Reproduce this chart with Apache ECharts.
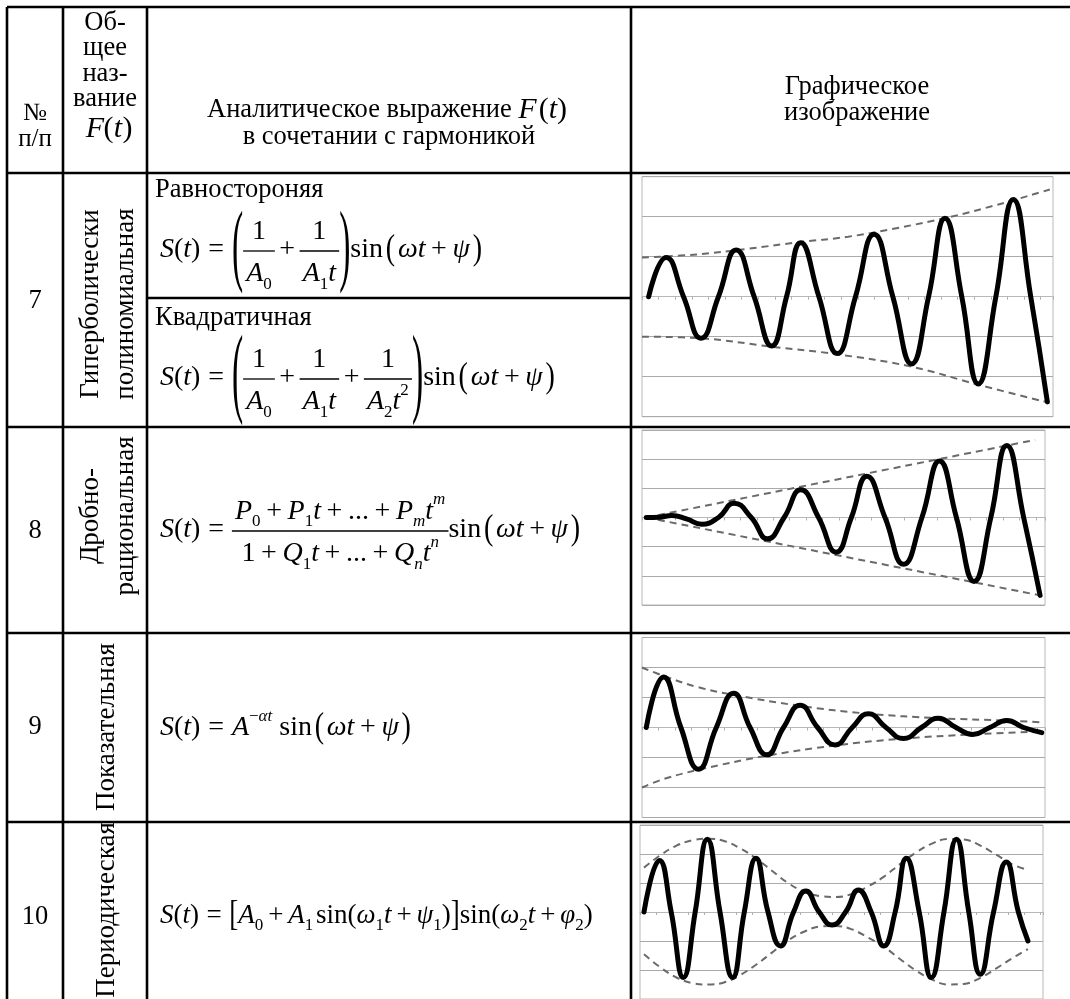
<!DOCTYPE html>
<html><head><meta charset="utf-8">
<script src="https://cdn.jsdelivr.net/npm/echarts@6/dist/echarts.min.js"></script>
<style>html,body{margin:0;padding:0;background:#fff}#c{width:1070px;height:999px}</style>
</head><body><div id="c"></div><script>
// ---------- DATA ----------
// Row 7: hyperbolic-polynomial harmonic (t, S)
const curve7 = [[0,0],[1.06,0.98],[2.1,0],[3.15,-1.04],[4.2,0],[5.27,1.17],[6.35,0],[7.41,-1.23],[8.3,0],[9.16,1.35],[10.25,0],[11.36,-1.42],[12.45,0],[13.57,1.56],[14.7,0],[15.83,-1.68],[16.85,0],[17.84,1.96],[18.85,0],[19.84,-2.18],[20.9,0],[21.95,2.43],[23.0,0],[24,-2.63]];
const upper7 = [[-0.4,0.98],[3,1.06],[6,1.2],[9,1.36],[12,1.5],[15,1.72],[18,1.98],[21,2.3],[24.15,2.68]];
const lower7 = [[-0.4,-1.0],[3.15,-1.04],[7.41,-1.25],[11.36,-1.44],[15.83,-1.75],[19.84,-2.2],[24.1,-2.65]];
// Row 8: fractional-rational
const curve8 = [[0,0],[0.8,0.01],[1.56,0.07],[2.45,-0.05],[3.39,-0.23],[4.4,0],[5.36,0.49],[6.4,0],[7.39,-0.73],[8.4,0],[9.42,0.95],[10.5,0],[11.57,-1.19],[12.5,0],[13.44,1.41],[14.55,0],[15.68,-1.6],[16.8,0],[17.87,1.94],[18.9,0],[19.98,-2.19],[21.0,0],[21.97,2.47],[23.0,0],[24,-2.67]];
const upper8 = [[0,0],[23.7,2.66]];
const lower8 = [[0,0],[24,-2.67]];
// Row 9: exponential
const curve9 = [[0,0],[1.05,1.68],[2.1,0],[3.17,-1.39],[4.25,0],[5.3,1.14],[6.3,0],[7.32,-0.91],[8.33,0],[9.34,0.74],[10.4,0],[11.46,-0.58],[12.5,0],[13.49,0.46],[14.55,0],[15.61,-0.37],[16.7,0],[17.73,0.31],[18.8,0],[19.81,-0.23],[20.85,0],[21.88,0.23],[22.9,0],[24,-0.17]];
const upper9 = [[-0.26,2.0],[1.05,1.72],[3.17,1.34],[5.3,1.09],[9.34,0.72],[13.49,0.46],[17.73,0.31],[21.88,0.23],[24,0.17]];
const lower9 = [[-0.26,-2.0],[1.05,-1.72],[3.17,-1.41],[7.32,-0.94],[11.46,-0.6],[15.61,-0.37],[19.81,-0.23],[24,-0.13]];
// Row 10: periodic
const curve10 = [[0,0],[0.96,1.78],[1.7,0],[2.46,-2.26],[3.2,0],[3.96,2.51],[4.75,0],[5.54,-2.26],[6.27,0],[7.0,1.85],[7.75,0],[8.53,-1.17],[9.35,0],[10.12,0.72],[10.95,0],[11.76,-0.45],[12.6,0],[13.4,0.76],[14.2,0],[14.99,-1.17],[15.7,0],[16.4,1.85],[17.2,0],[17.96,-2.26],[18.75,0],[19.53,2.51],[20.3,0],[21.02,-2.15],[21.85,0],[22.65,1.72],[23.4,0],[24,-1.0]];
const upper10 = [[0,1.53],[1,1.95],[2,2.28],[3,2.47],[4,2.53],[5,2.45],[6,2.2],[7,1.85],[8,1.42],[9,1.0],[10,0.7],[11,0.55],[12,0.52],[13,0.62],[14,0.88],[15,1.22],[16,1.65],[17,2.05],[18,2.36],[19,2.52],[20,2.5],[21,2.3],[22,1.98],[23,1.65],[24,1.45]];
const lower10 = [[0,-1.46],[1,-1.9],[2,-2.25],[3,-2.45],[4,-2.5],[5,-2.43],[6,-2.18],[7,-1.82],[8,-1.4],[9,-0.98],[10,-0.68],[11,-0.5],[12,-0.48],[13,-0.6],[14,-0.88],[15,-1.2],[16,-1.62],[17,-2.02],[18,-2.33],[19,-2.5],[20,-2.48],[21,-2.28],[22,-1.95],[23,-1.6],[24,-1.28]];
const yTicks = [-3,-2,-1,0,1,2,3];
// Table texts
const headNo = ['№','п/п'];
const headName = ['Об-','щее','наз-','вание'];
const headExpr = ['Аналитическое выражение ','в сочетании с гармоникой'];
const headGraph = ['Графическое','изображение'];
const rowNums = ['7','8','9','10'];
const rowNames = [['Гиперболически','полиномиальная'],['Дробно-','рациональная'],['Показательная'],['Периодическая']];
const subNames = ['Равностороняя','Квадратичная'];

// ---------- LAYOUT ----------
const FAM = '"Liberation Serif","Times New Roman",serif';
const mc = document.createElement('canvas').getContext('2d');
function fontOf(fs,it){return (it?'italic ':'')+fs+'px '+FAM;}
function tw(s,fs,it){mc.font=fontOf(fs,it);return mc.measureText(s).width;}
const els = [];
function T(s,x,y,o){o=o||{};const fs=o.fs||26;const al=o.al||'left';
  els.push({type:'text',x:x,y:y,rotation:o.rot||0,scaleX:o.sx||1,scaleY:o.sy||1,silent:true,z:100,
    style:{text:s,font:fontOf(fs,o.it),fill:'#000',align:al,verticalAlign:'middle',textAlign:al,textVerticalAlign:'middle'}});}
function L(x1,y1,x2,y2,wd){els.push({type:'line',silent:true,z:90,shape:{x1:x1,y1:y1,x2:x2,y2:y2},style:{stroke:'#000',lineWidth:wd||2.6}});}
// math tokens
const I=s=>({s:s,it:true}), N=s=>({s:s,it:false}), SB=(s,it)=>({s:s,it:!!it,sub:true}), SP=e=>({sp:e}),
      SU=(s,it)=>({s:s,it:it!==false,sup:true}), FR=(a,b)=>({fr:[a,b]}), BP=(c,k,kx)=>({bp:c,k:k,kx:kx||1});
function run(tk,x,ax,fs,draw){
  for(const t of tk){
    if(t.sp!==undefined){x+=t.sp*fs;continue;}
    if(t.fr){const wn=run(t.fr[0],0,0,fs,false),wd=run(t.fr[1],0,0,fs,false);const W=Math.max(wn,wd)+0.22*fs;
      if(draw){L(x,ax,x+W,ax,1.3);run(t.fr[0],x+(W-wn)/2,ax-0.66*fs,fs,true);run(t.fr[1],x+(W-wd)/2,ax+0.86*fs,fs,true);}
      x+=W;continue;}
    if(t.bp){const w=tw(t.bp,fs,false)*t.kx; if(draw)T(t.bp,x,ax-0.04*fs,{fs:fs,sy:t.k,sx:t.kx}); x+=w; continue;}
    const small=t.sub||t.sup; const s2=small?Math.round(fs*0.62):fs;
    const dy=t.sub?0.32*fs:(t.sup?-0.46*fs:-0.04*fs);
    if(draw)T(t.s,x,ax+dy,{fs:s2,it:t.it});
    x+=tw(t.s,s2,t.it);
  }
  return x;
}
const EQ=[I('S'),N('('),I('t'),N(')'),SP(.28),N('='),SP(.28)];
const PL=[SP(.2),N('+'),SP(.2)];
const PLs=[SP(.16),N('+'),SP(.16)];
const SINW=[N('sin'),SP(.1),BP('(',1.25),SP(.1),I('ω'),I('t'),...PL,I('ψ'),SP(.1),BP(')',1.25)];
const F7a=[...EQ,BP('(',3.26,1.2),FR([N('1')],[I('A'),SB('0')]),...PLs,FR([N('1')],[I('A'),SB('1'),I('t')]),BP(')',3.26,1.2),...SINW];
const F7b=[...EQ,BP('(',3.58,1.2),FR([N('1')],[I('A'),SB('0')]),...PLs,FR([N('1')],[I('A'),SB('1'),I('t')]),...PLs,FR([N('1')],[I('A'),SB('2'),I('t'),SU('2',false)]),BP(')',3.58,1.2),...SINW];
const F8=[...EQ,FR([I('P'),SB('0'),...PL,I('P'),SB('1'),I('t'),...PL,N('...'),...PL,I('P'),SB('m',true),I('t'),SU('m')],
                 [N('1'),...PL,I('Q'),SB('1'),I('t'),...PL,N('...'),...PL,I('Q'),SB('n',true),I('t'),SU('n')]),...SINW];
const F9=[...EQ,I('A'),SU('−',false),SU('αt'),SP(.25),...SINW];
const PLt=[SP(.18),N('+'),SP(.18)];
const F10=[...EQ,BP('[',1.35),I('A'),SB('0'),...PLt,I('A'),SB('1'),SP(.1),N('sin('),I('ω'),SB('1'),I('t'),...PLt,I('ψ'),SB('1'),N(')'),BP(']',1.35),N('sin('),I('ω'),SB('2'),I('t'),...PLt,I('φ'),SB('2'),N(')')];

// table geometry
const XL=7, XC1=63, XC2=147, XC3=631, XR=1070;
const YT=7, YH=173, Y7s=298, Y7=427, Y8=633, Y9=822, YB=999;
[YT,YH,Y7,Y8,Y9].forEach(y=>L(XL,y,XR,y));
L(XC2,Y7s,XC3,Y7s);
[XL,XC1,XC2,XC3].forEach(x=>L(x,YT,x,YB));

// header
const HF=26.5;
T(headNo[0],35,113,{al:'center',fs:25}); T(headNo[1],35,139,{al:'center',fs:25});
headName.forEach((s,i)=>T(s,105,23+i*25.5,{al:'center',fs:HF}));
T('F',95,129,{al:'center',fs:30,it:true}); T('(',108.5,129,{al:'center',fs:30}); T('t',118,129,{al:'center',fs:30,it:true}); T(')',127.5,129,{al:'center',fs:30});
const wE=tw(headExpr[0],HF,false)+tw('F(t)',30,true)+6; let hx=389-wE/2;
T(headExpr[0],hx,110,{fs:HF}); hx+=tw(headExpr[0],HF,false);
T('F',hx,110,{fs:30,it:true}); hx+=tw('F',30,true)+2; T('(',hx,110,{fs:30}); hx+=tw('(',30,false); T('t',hx,110,{fs:30,it:true}); hx+=tw('t',30,true); T(')',hx,110,{fs:30});
T(headExpr[1],389,137,{al:'center',fs:HF});
T(headGraph[0],857,87,{al:'center',fs:HF}); T(headGraph[1],857,113,{al:'center',fs:HF});

// rows: numbers and rotated names
rowNums.forEach((s,i)=>T(s,35,[301,531,727,917][i],{al:'center',fs:HF}));
rowNames.forEach((arr,i)=>{const cy=[304,516,727,910][i];
  if(arr.length===2){T(arr[0],91,cy,{al:'center',fs:27,rot:Math.PI/2});T(arr[1],126,cy,{al:'center',fs:27,rot:Math.PI/2});}
  else T(arr[0],107,cy,{al:'center',fs:27,rot:Math.PI/2});});
T(subNames[0],155,190,{fs:HF}); T(subNames[1],155,318,{fs:HF});
run(F7a,160,251,28,true); run(F7b,160,379,28,true); run(F8,160,531,28,true); run(F9,160,729,28,true); run(F10,160,917,27,true);

// ---------- CHARTS ----------
const grids=[{left:642,top:176.7,width:411,height:240},{left:642,top:430,width:403,height:175},{left:642,top:637.5,width:403,height:180},{left:640,top:825,width:403,height:175}];
const xr=[[-0.4,24.34],[-0.26,24.3],[-0.26,24.2],[-0.25,24.94]];
const sets=[[curve7,upper7,lower7],[curve8,upper8,lower8],[curve9,upper9,lower9],[curve10,upper10,lower10]];
const option={animation:false,backgroundColor:'#fff',
  grid:grids.map(g=>Object.assign({show:true,borderColor:'#b8b8b8',borderWidth:1,backgroundColor:'transparent'},g)),
  xAxis:grids.map((g,i)=>({type:'value',gridIndex:i,min:xr[i][0],max:xr[i][1],interval:1,
    axisLine:{show:true,onZero:true,lineStyle:{color:'#b8b8b8',width:1}},axisTick:{show:true,length:3,lineStyle:{color:'#b0b0b0'}},
    axisLabel:{show:false},splitLine:{show:false}})),
  yAxis:grids.map((g,i)=>({type:'value',gridIndex:i,min:yTicks[0],max:yTicks[yTicks.length-1],interval:1,
    axisLine:{show:false},axisTick:{show:false},axisLabel:{show:false},splitLine:{show:true,lineStyle:{color:'#aaaaaa',width:1}}})),
  series:[],graphic:{elements:els}};
sets.forEach((s,i)=>{
  option.series.push({type:'line',xAxisIndex:i,yAxisIndex:i,data:s[1],smooth:0.4,symbol:'none',z:3,lineStyle:{color:'#6a6a6a',width:2,type:[7,5]}});
  option.series.push({type:'line',xAxisIndex:i,yAxisIndex:i,data:s[2],smooth:0.4,symbol:'none',z:3,lineStyle:{color:'#6a6a6a',width:2,type:[7,5]}});
  option.series.push({type:'line',xAxisIndex:i,yAxisIndex:i,data:s[0],smooth:0.5,symbol:'none',z:4,lineStyle:{color:'#000',width:5,cap:'round',join:'round'}});
});
const chart=echarts.init(document.getElementById('c'),null,{renderer:'canvas'});
chart.setOption(option);
</script></body></html>
